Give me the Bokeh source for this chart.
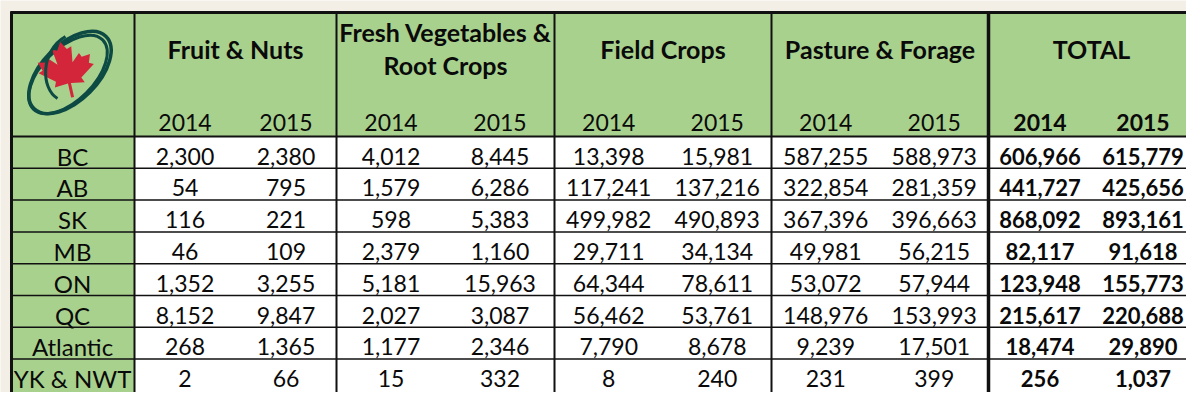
import numpy as np
from bokeh.plotting import figure
from bokeh.models import Range1d
from bokeh.core.properties import value
from bokeh.embed import file_html
from bokeh.resources import INLINE

# ---------------- data ----------------
regions = ["BC", "AB", "SK", "MB", "ON", "QC", "Atlantic", "YK & NWT"]
group_titles = [["Fruit & Nuts"], ["Fresh Vegetables &", "Root Crops"],
                ["Field Crops"], ["Pasture & Forage"], ["TOTAL"]]
years = ["2014", "2015"]

fruit_2014 = [2300, 54, 116, 46, 1352, 8152, 268, 2]
fruit_2015 = [2380, 795, 221, 109, 3255, 9847, 1365, 66]
veg_2014 = [4012, 1579, 598, 2379, 5181, 2027, 1177, 15]
veg_2015 = [8445, 6286, 5383, 1160, 15963, 3087, 2346, 332]
field_2014 = [13398, 117241, 499982, 29711, 64344, 56462, 7790, 8]
field_2015 = [15981, 137216, 490893, 34134, 78611, 53761, 8678, 240]
pasture_2014 = [587255, 322854, 367396, 49981, 53072, 148976, 9239, 231]
pasture_2015 = [588973, 281359, 396663, 56215, 57944, 153993, 17501, 399]
total_2014 = [606966, 441727, 868092, 82117, 123948, 215617, 18474, 256]
total_2015 = [615779, 425656, 893161, 91618, 155773, 220688, 29890, 1037]

series = [(fruit_2014, fruit_2015), (veg_2014, veg_2015),
          (field_2014, field_2015), (pasture_2014, pasture_2015),
          (total_2014, total_2015)]

# ---------------- layout (pixels) ----------------
X0, Y0 = 10, 11
LABEL_W = 124
GROUP_W = [202, 218, 217, 217, 206]
HEADER_BOTTOM = 136
ROW_H = 31.8
BASE_FIX = -7          # correction for the renderer's baseline placement
ROW_BASE = 26.5 + BASE_FIX
FONT = value("Lato")
FS = "23px"
FS_LABEL = "24px"
FS_TITLE = "25px"
FS_TOTAL = "22px"
GREEN = "#a9d18e"
BEIGE = "#f3efe7"
INK = "#0a0a0a"
LINE = "#111111"
TEAL = "#0d4a44"
RED = "#d3263a"

W, H = 1186, 392
p = figure(width=W, height=H, x_range=Range1d(0, W), y_range=Range1d(H, 0),
           output_backend="svg", toolbar_location=None, tools="", min_border=0)
p.axis.visible = False
p.grid.visible = False
p.outline_line_color = None
p.background_fill_color = BEIGE
p.border_fill_color = BEIGE

edges = [X0 + LABEL_W]
for w in GROUP_W:
    edges.append(edges[-1] + w)
right = edges[-1]
n = len(regions)
row_tops = [HEADER_BOTTOM + i * ROW_H for i in range(n)]
bottom = HEADER_BOTTOM + n * ROW_H + 20

# backgrounds
p.quad(left=[X0], right=[right], top=[Y0], bottom=[HEADER_BOTTOM], fill_color=GREEN, line_color=None)
p.quad(left=[X0], right=[edges[0]], top=[HEADER_BOTTOM], bottom=[bottom], fill_color=GREEN, line_color=None)
p.quad(left=[edges[0]], right=[right], top=[HEADER_BOTTOM], bottom=[bottom], fill_color="white", line_color=None)

# row lines
p.segment(x0=[X0] * (n - 1), x1=[right] * (n - 1), y0=row_tops[1:], y1=row_tops[1:],
          line_color=LINE, line_width=1.5)
p.segment(x0=[X0], x1=[right], y0=[HEADER_BOTTOM], y1=[HEADER_BOTTOM], line_color=LINE, line_width=2)
# vertical lines
vx = edges[:4]
p.segment(x0=vx, x1=vx, y0=[Y0] * len(vx), y1=[bottom] * len(vx), line_color=LINE, line_width=2)
p.segment(x0=[edges[4]], x1=[edges[4]], y0=[Y0], y1=[bottom], line_color=LINE, line_width=3.5)
# outer border
p.segment(x0=[X0], x1=[right], y0=[Y0 + 1], y1=[Y0 + 1], line_color=LINE, line_width=3)
p.segment(x0=[X0 + 1], x1=[X0 + 1], y0=[Y0], y1=[bottom], line_color=LINE, line_width=3)

# group titles
tx, ty, tt = [], [], []
for g, lines in enumerate(group_titles):
    cx = (edges[g] + edges[g + 1]) / 2
    bases = [55] if len(lines) == 1 else [38, 71]
    for line, b in zip(lines, bases):
        tx.append(cx); ty.append(b + BASE_FIX); tt.append(line)
p.text(x=tx, y=ty, text=tt, text_font=FONT, text_font_size=FS_TITLE, text_font_style="bold",
       text_align="center", text_baseline="alphabetic", text_color=INK)

# year headers & values
for g in range(len(GROUP_W)):
    is_total = g == len(GROUP_W) - 1
    style = "bold" if is_total else "normal"
    for k, yr in enumerate(years):
        cx = edges[g] + GROUP_W[g] * (0.25 + 0.5 * k)
        vals = series[g][k]
        p.text(x=[cx], y=[129 + BASE_FIX], text=[yr], text_font=FONT, text_font_size=FS,
               text_font_style=style, text_align="center", text_baseline="alphabetic", text_color=INK)
        p.text(x=[cx] * n, y=[t + ROW_BASE for t in row_tops], text=[f"{v:,}" for v in vals],
               text_font=FONT, text_font_size=FS_TOTAL if is_total else FS, text_font_style=style,
               text_align="center", text_baseline="alphabetic", text_color=INK)

# region labels
p.text(x=[(X0 + edges[0]) / 2] * n, y=[t + ROW_BASE for t in row_tops], text=regions,
       text_font=FONT, text_font_size=FS_LABEL, text_align="center", text_baseline="alphabetic",
       text_color=INK)

# logo (decorative): swoosh ring + maple leaf
p.ellipse(x=[69.5], y=[72], width=[102], height=[56], angle=[np.pi / 4],
          fill_color=None, line_color=TEAL, line_width=3.5)
p.ellipse(x=[67.5], y=[74], width=[98], height=[52], angle=[np.pi / 4],
          fill_color=None, line_color=TEAL, line_width=3)
leaf_r = [(0, 1.0), (0.13, 0.76), (0.26, 0.82), (0.20, 0.34), (0.42, 0.58), (0.47, 0.46),
          (0.70, 0.50), (0.62, 0.24), (0.74, 0.18), (0.34, -0.16), (0.40, -0.32),
          (0.04, -0.27), (0.04, -0.70)]
leaf = leaf_r + [(-x, y) for x, y in reversed(leaf_r)]
th = np.deg2rad(11)
lx = [67 + 38 * (x * np.cos(th) - y * np.sin(th)) for x, y in leaf]
ly = [74 - 33 * (x * np.sin(th) + y * np.cos(th)) for x, y in leaf]
p.patch(x=lx, y=ly, fill_color=RED, line_color=None)
p.bezier(x0=[65], y0=[36], x1=[57], y1=[98], cx0=[40], cy0=[50], cx1=[40], cy1=[88],
         line_color=TEAL, line_width=3)

open("out.html", "w").write(file_html(p, INLINE))
